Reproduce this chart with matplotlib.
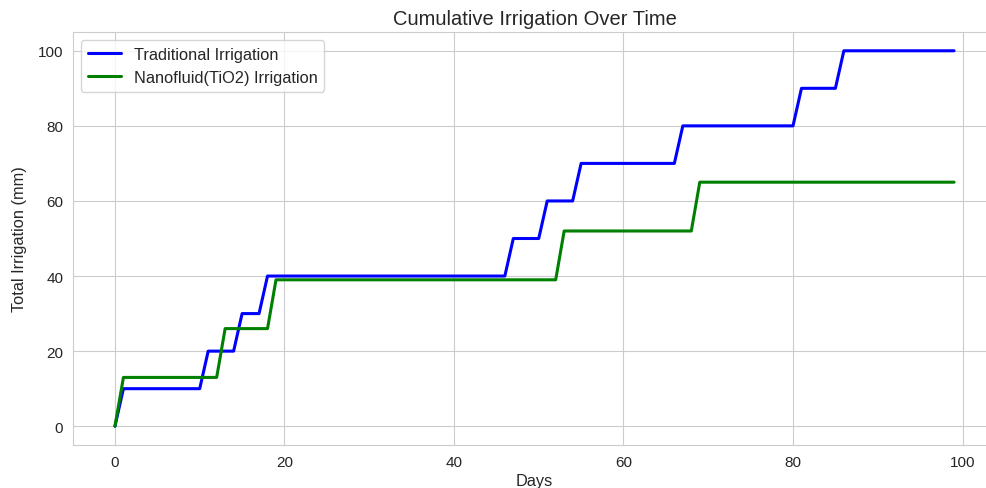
import numpy as np
import matplotlib.pyplot as plt
import seaborn as sns

# irrigation events (day, mm)
days = np.arange(0, 100)
trad_event_days = [1, 11, 15, 18, 47, 51, 55, 67, 81, 86]
trad_event_mm = [10, 10, 10, 10, 10, 10, 10, 10, 10, 10]
nano_event_days = [1, 13, 19, 53, 69]
nano_event_mm = [13, 13, 13, 13, 13]


def daily_series(event_days, event_mm):
    daily = np.zeros(len(days))
    for d, mm in zip(event_days, event_mm):
        daily[d] += mm
    return np.cumsum(daily)


trad_total = daily_series(trad_event_days, trad_event_mm)
nano_total = daily_series(nano_event_days, nano_event_mm)

sns.set_style("whitegrid")
plt.rcParams['font.family'] = ['Liberation Sans', 'DejaVu Sans']

W, H = 987, 489
fig = plt.figure(figsize=(W / 100, H / 100), dpi=100)
# axes runs past the right edge, as in the original (cropped) figure
ax = fig.add_axes([73 / W, (H - 446) / H, 923 / W, 413 / H])
ax.plot(days, trad_total, color="blue", linewidth=2.2, label="Traditional Irrigation")
ax.plot(days, nano_total, color="green", linewidth=2.2, label="Nanofluid(TiO2) Irrigation")
ax.set_xlim(-4.95, 103.95)
ax.spines['right'].set_visible(False)

ax.set_title("Cumulative Irrigation Over Time", fontsize=14.5)
ax.set_xlabel("Days", fontsize=11.8, labelpad=3)
ax.set_ylabel("Total Irrigation (mm)", fontsize=11.8, labelpad=8)
ax.tick_params(labelsize=11)
ax.legend(loc="upper left", fontsize=11.8)

fig.savefig("out.png", dpi=100)
plt.close()
